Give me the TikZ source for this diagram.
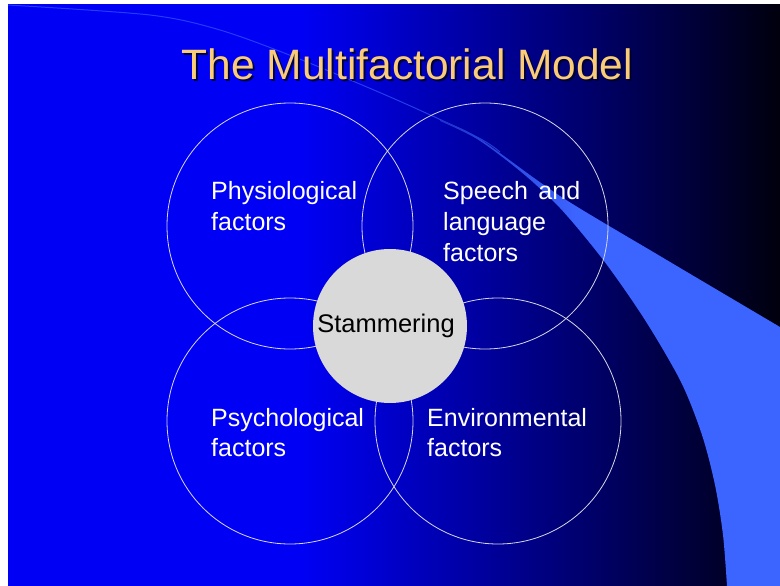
\documentclass[tikz,border=0pt]{standalone}
\usepackage{fontspec}
\setmainfont{Liberation Sans}
\definecolor{bgblue}{RGB}{0,0,245}
\definecolor{bgdark}{RGB}{0,0,14}
\definecolor{swl}{RGB}{60,100,255}
\definecolor{swd}{RGB}{30,50,200}
\definecolor{titlegold}{RGB}{250,204,120}
\definecolor{titleshadow}{RGB}{0,0,40}
\definecolor{ringline}{RGB}{215,215,228}
\definecolor{corefill}{RGB}{217,217,217}
% pgf maps 25bp..75bp of a shading onto the path's bounding box
\pgfdeclarehorizontalshading{bgshade}{100bp}{color(0bp)=(bgblue); color(44bp)=(bgblue); color(75bp)=(bgdark); color(100bp)=(bgdark)}
\pgfdeclarehorizontalshading{swshade}{100bp}{color(0bp)=(swd); color(25bp)=(swd); color(45bp)=(swl); color(100bp)=(swl)}
\begin{document}
\begin{tikzpicture}[x=1pt,y=-1pt,
  ring/.style={circle, draw=ringline, line width=0.8pt, minimum size=246pt, inner sep=0pt},
  core/.style={circle, fill=corefill, minimum size=154pt, inner sep=0pt, text=black, font=\fontsize{25.5}{30}\selectfont},
  lbl/.style={text=white, font=\fontsize{25}{30}\selectfont, anchor=base west, inner sep=0pt},
  titletext/.style={font=\fontsize{42.5}{50}\selectfont, anchor=base, inner sep=0pt},
  swline/.style={draw=swl, line width=1pt, opacity=0.6}]
\useasboundingbox (0,0) rectangle (780,586);
\fill[white] (0,0) rectangle (780,586);
\shade[shading=bgshade] (8,5) rectangle (780,586);
% swoosh
\draw[swline] plot[smooth] coordinates {(8,5) (150,15) (220,30) (297,58) (397,100) (477,137) (500,152)};
\shade[shading=swshade] plot[smooth] coordinates {(440,120) (477,137) (560,196) (660,256) (780,327)}
  -- (780,586)
  -- plot[smooth] coordinates {(727,586) (723,535) (715,485) (702,435) (681,382) (645,320) (604,261) (560,208) (520,171) (477,139) (440,121)} -- cycle;
% title
\node[titletext, text=titleshadow, opacity=0.85] (titleshadow) at (409.5,82) {The Multifactorial Model};
\node[titletext, text=titlegold] (title) at (407.5,80) {The Multifactorial Model};
% rings
\node[ring] (phys) at (290,226) {};
\node[ring] (speech) at (485,226) {};
\node[ring] (psych) at (290,421) {};
\node[ring] (env) at (498,421) {};
\node[core] (stam) at (390,326) {\hspace*{-8pt}Stammering};
% labels
\node[lbl] (physA) at (211,199) {Physiological};
\node[lbl] (physB) at (211,230) {factors};
\node[lbl] (speechA) at (443,199) {Speech\hspace{10.5pt}and};
\node[lbl] (speechB) at (443,230) {language};
\node[lbl] (speechC) at (443,261) {factors};
\node[lbl] (psychA) at (211,426) {Psychological};
\node[lbl] (psychB) at (211,456) {factors};
\node[lbl] (envA) at (427,426) {Environmental};
\node[lbl] (envB) at (427,456) {factors};
\end{tikzpicture}
\end{document}
